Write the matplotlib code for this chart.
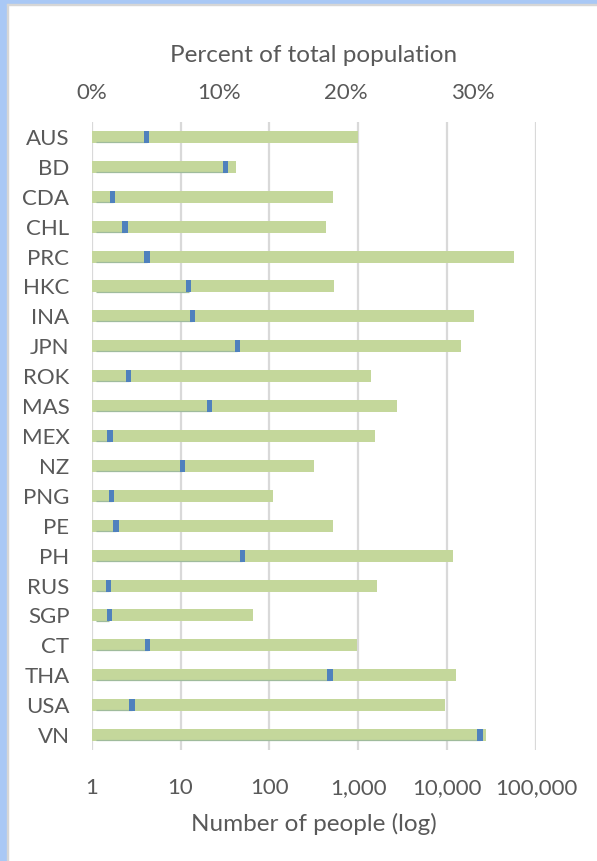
import matplotlib
matplotlib.use('Agg')
import matplotlib.pyplot as plt
from matplotlib.patches import Rectangle
from matplotlib.ticker import FuncFormatter, FixedLocator
import numpy as np

economies = ['AUS', 'BD', 'CDA', 'CHL', 'PRC', 'HKC', 'INA', 'JPN', 'ROK', 'MAS',
             'MEX', 'NZ', 'PNG', 'PE', 'PH', 'RUS', 'SGP', 'CT', 'THA', 'USA', 'VN']
# number of people (log axis, bottom)
people = [980, 42, 518, 429, 56700, 536, 19800, 14200, 1375, 2700,
          1525, 316, 111, 518, 11700, 1633, 65, 972, 12650, 9500, 27700]
# percent of total population (top axis)
percent = [4.33, 10.56, 1.65, 2.62, 4.36, 7.64, 7.93, 11.48, 2.91, 9.3,
           1.44, 7.14, 1.58, 1.91, 11.87, 1.34, 1.39, 4.41, 18.78, 3.18, 30.6]

green = '#c4d79b'
blue = '#4f81bd'
grey = '#595959'
font = 'Lato'

fig = plt.figure(figsize=(5.97, 8.61), dpi=100)
# window frame on left / top
fig.patches.append(Rectangle((0, 0), 7/597, 1, transform=fig.transFigure, color='#a9c8f5', zorder=0))
fig.patches.append(Rectangle((0, 1 - 4/861), 1, 4/861, transform=fig.transFigure, color='#a9c8f5', zorder=0))
fig.patches.append(Rectangle((7/597, 0), 1.2/597, 1 - 4/861, transform=fig.transFigure, color='#d6d6d6', zorder=0))
fig.patches.append(Rectangle((7/597, 1 - 5.2/861), 1, 1.2/861, transform=fig.transFigure, color='#d6d6d6', zorder=0))

ax = fig.add_axes([91.7/597, 1 - 750/861, (536 - 91.7)/597, (750 - 122)/861])
y = np.arange(len(economies))

ax.barh(y, np.array(people) - 1, left=1, height=0.4, color=green, zorder=2)
ax.set_xscale('log')
ax.set_xlim(1, 100000)
ax.set_ylim(len(economies) - 0.5, -0.5)
ax.set_yticks(y)
ax.set_yticklabels(economies)
ax.xaxis.set_major_locator(FixedLocator([1, 10, 100, 1000, 10000, 100000]))
ax.xaxis.set_minor_locator(FixedLocator([]))
ax.xaxis.set_major_formatter(FuncFormatter(lambda v, p: f'{v:,.0f}'))
ax.grid(axis='x', color='#d9d9d9', lw=1.6, zorder=0)
ax.set_axisbelow(True)
for s in ax.spines.values():
    s.set_visible(False)
ax.tick_params(axis='both', length=0, labelsize=16, labelcolor=grey)
ax.tick_params(axis='x', pad=20)
ax.tick_params(axis='y', pad=16)
for lab in ax.get_xticklabels() + ax.get_yticklabels():
    lab.set_fontfamily(font)
ax.set_xlabel('Number of people (log)', fontsize=17.5, color=grey, family=font, labelpad=11)

ax2 = ax.twiny()
ax2.set_xlim(0, 35)
pct = np.array(percent)
ax2.hlines(y + 0.17, 0.3, pct, color='#9fbb9c', lw=0.9, zorder=3)
ax2.barh(y, 0.42, left=pct - 0.21, height=0.4, color=blue, zorder=4)
ax2.set_xticks([0, 10, 20, 30])
ax2.set_xticklabels(['0%', '10%', '20%', '30%'])
for s in ax2.spines.values():
    s.set_visible(False)
ax2.tick_params(axis='x', length=0, labelsize=16, labelcolor=grey, pad=14)
for lab in ax2.get_xticklabels():
    lab.set_fontfamily(font)
ax2.set_xlabel('Percent of total population', fontsize=17.5, color=grey, family=font, labelpad=15)

fig.savefig('out.png', dpi=100)
